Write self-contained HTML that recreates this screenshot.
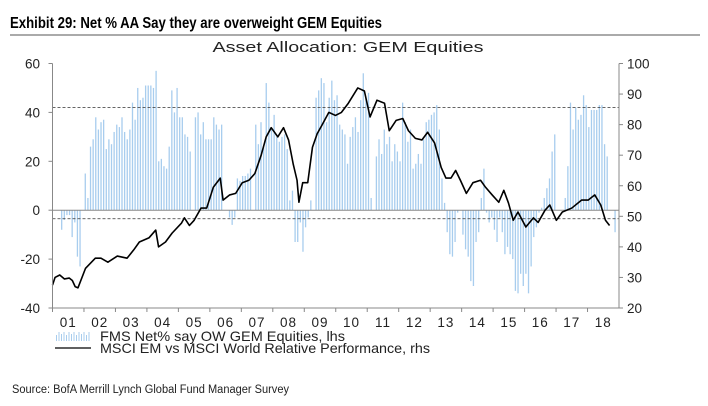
<!DOCTYPE html>
<html><head><meta charset="utf-8">
<style>
html,body{margin:0;padding:0;background:#fff;}
svg{display:block;font-family:"Liberation Sans",Arial,sans-serif;}
</style></head>
<body>
<svg id="chart" width="708" height="406" viewBox="0 0 708 406" xmlns="http://www.w3.org/2000/svg">
<text x="10" y="28" font-size="15.5" font-weight="bold" fill="#000" textLength="372" lengthAdjust="spacingAndGlyphs">Exhibit 29: Net % AA Say they are overweight GEM Equities</text>
<line x1="10" y1="35" x2="700" y2="35" stroke="#555" stroke-width="1"/>
<text x="348" y="52" font-size="15" text-anchor="middle" fill="#222" textLength="271" lengthAdjust="spacingAndGlyphs">Asset Allocation: GEM Equities</text>
<g id="plot"></g>
<g>
  <g id="legicon"></g>
  <text x="100" y="341" font-size="14" fill="#222" textLength="245" lengthAdjust="spacingAndGlyphs">FMS Net% say OW GEM Equities, lhs</text>
  <line x1="55" y1="348" x2="91" y2="348" stroke="#000" stroke-width="1.3"/>
  <text x="100" y="353" font-size="14" fill="#222" textLength="330" lengthAdjust="spacingAndGlyphs">MSCI EM vs MSCI World Relative Performance, rhs</text>
</g>
<text x="12" y="393" font-size="11.5" fill="#222" textLength="277" lengthAdjust="spacingAndGlyphs">Source: BofA Merrill Lynch Global Fund Manager Survey</text>
</svg>
<script>
// Bar series (monthly), lhs
const barStartYear = 2001 + 3/12;
const barValues = [
 -8,-4,-2,-2,-11,-5,-19,-23,0,15,
 5,26,29,38,33,36,37,25,29,27,32,35,
 34,38,32,29,33,44,37,50,45,46,51,51,
 51,50,57,20,21,18,17,26,49,40,50,38,
 38,31,30,24,0,38,40,31,36,29,29,29,
 38,35,33,35,0,0,-3,-6,-3,13,12,14,
 14,15,17,0,35,27,36,26,52,44,33,39,
 30,28,30,31,25,4,8,-13,-13,-5,-17,-7,
 -3,4,0,46,49,54,52,36,46,53,45,47,
 35,33,31,19,30,34,38,32,45,56,46,48,
 5,0,22,29,23,33,27,30,20,27,24,20,
 44,36,28,33,17,19,23,19,29,36,37,39,
 40,43,33,13,3,-9,-18,-19,-13,-1,0,-10,
 -16,-19,-29,-31,-13,-9,
 5,17,-1,-5,-3,-8,-13,-3,-9,-18,-15,-18,-20,-33,-34,-26,-31,-26,-34,-23,-11,-7,-1,1,5,9,13,24,31,0,0,0,5,18,44,33,42,37,39,47,43,34,41,41,41,43,43,27,22,0,0,-9
];
// Line series: MSCI EM vs World relative performance, rhs
const lineYears = [2001.0,2001.08,2001.23,2001.38,2001.53,2001.63,2001.72,2001.81,2002.05,2002.36,2002.54,2002.76,2003.06,2003.37,2003.58,2003.76,2004.07,2004.28,2004.37,2004.59,2004.80,2005.10,2005.19,2005.35,2005.50,2005.72,2005.90,2006.11,2006.33,2006.42,2006.63,2006.82,2007.03,2007.24,2007.43,2007.63,2007.79,2007.95,2008.16,2008.34,2008.50,2008.65,2008.77,2008.83,2008.95,2009.11,2009.26,2009.41,2009.56,2009.78,2009.99,2010.18,2010.40,2010.70,2010.91,2011.09,2011.31,2011.55,2011.70,2011.92,2012.13,2012.31,2012.53,2012.74,2012.92,2013.14,2013.35,2013.50,2013.66,2013.81,2013.96,2014.15,2014.36,2014.60,2014.76,2014.97,2015.18,2015.34,2015.49,2015.64,2015.79,2016.04,2016.28,2016.43,2016.65,2016.80,2017.01,2017.20,2017.50,2017.81,2018.02,2018.23,2018.42,2018.57,2018.70];
const lineValues = [27.5,30,30.8,29.5,29.8,29,27,26.6,33,36.3,36.3,35,37,36.3,39,41.6,43,45.5,40,41.6,44.5,47.8,49.5,47,48.7,52.7,52.7,59.5,62.5,55.3,57,57.5,61,61.8,64,70,76,79,76,79,75,67,61.8,54.6,61,61,72.6,77,79.8,84,83,84,87,92,91,82.5,88,87,78,81.4,82,78,75.5,75,77.5,74,66,62.5,62.5,65,61.8,57.5,61,61.8,59.5,57,54.6,58.5,54.3,48.7,51.4,46.5,49.5,48,52,53.7,48.7,51.4,52.7,55.3,55.3,57,53.7,48.7,47];
const leftTicks = [60,40,20,0,-20,-40];
const rightTicks = [100,90,80,70,60,50,40,30,20];
const yearLabels = ['01','02','03','04','05','06','07','08','09','10','11','12','13','14','15','16','17','18'];
const refLines = [42,-3.5];

const X0=52.5, X1=619, YT=63.5, YB=308;
const yearMin=2001, yearMax=2019;
const xs = yr => X0 + (yr-yearMin)/(yearMax-yearMin)*(X1-X0);
const yL = v => YB - (v-(-40))/100*(YB-YT);
const yR = v => YB - (v-20)/80*(YB-YT);
const NS='http://www.w3.org/2000/svg';
const plot=document.getElementById('plot');
function mk(tag, attrs, parent){const e=document.createElementNS(NS,tag);for(const k in attrs)e.setAttribute(k,attrs[k]);(parent||plot).appendChild(e);return e;}

barValues.forEach((v,i)=>{
  const x=xs(barStartYear+(i+0.5)/12);
  const y0=yL(0), y1=yL(v);
  const r=mk('rect',{x:(x-0.65).toFixed(2),y:Math.min(y0,y1).toFixed(2),width:1.3,height:Math.abs(y1-y0).toFixed(2),fill:'#a8cdee'});
  
  
});
const z=mk('line',{x1:X0,x2:X1,y1:yL(0),y2:yL(0),stroke:'#888','stroke-width':1});


refLines.forEach(v=>{
  const l=mk('line',{x1:X0,x2:X1,y1:yL(v),y2:yL(v),stroke:'#333','stroke-width':0.8,'stroke-dasharray':'3,2'});
  
  
});
const pts=lineYears.map((yr,i)=>xs(yr).toFixed(2)+','+yR(lineValues[i]).toFixed(2)).join(' ');
const pl=mk('polyline',{points:pts,fill:'none',stroke:'#000','stroke-width':1.6,'stroke-linejoin':'round'});


const axL=mk('line',{x1:X0,x2:X0,y1:YT,y2:YB,stroke:'#888'});


const axR=mk('line',{x1:X1,x2:X1,y1:YT,y2:YB,stroke:'#888'});


const axB=mk('line',{x1:X0,x2:X1,y1:YB,y2:YB,stroke:'#888'});


leftTicks.forEach(v=>{
  mk('line',{x1:X0-4,x2:X0,y1:yL(v),y2:yL(v),stroke:'#888'});
  const t=mk('text',{x:40,y:yL(v)+5,'font-size':13.5,'text-anchor':'end',fill:'#222'});
  t.textContent=v;
  
  
});
rightTicks.forEach(v=>{
  mk('line',{x1:X1,x2:X1+4,y1:yR(v),y2:yR(v),stroke:'#888'});
  const t=mk('text',{x:X1+8,y:yR(v)+5,'font-size':13.5,fill:'#222'});
  t.textContent=v;
  
  
});
yearLabels.forEach((lab,i)=>{
  mk('line',{x1:xs(yearMin+i),x2:xs(yearMin+i),y1:YB,y2:YB+4,stroke:'#888'});
  const t=mk('text',{x:xs(yearMin+i+0.5),y:327,'font-size':13.5,'text-anchor':'middle',fill:'#222','letter-spacing':'1'});
  t.textContent=lab;
  
  
});
const li=document.getElementById('legicon');
for(let i=0;i<14;i++){
  const h=[6,9,7,9,6,9,7,9,6,9,7,9,6,9][i];
  mk('rect',{x:56+i*2.5,y:341-h,width:1,height:h,fill:'#a8cdee'},li);
}
</script>
</body></html>
